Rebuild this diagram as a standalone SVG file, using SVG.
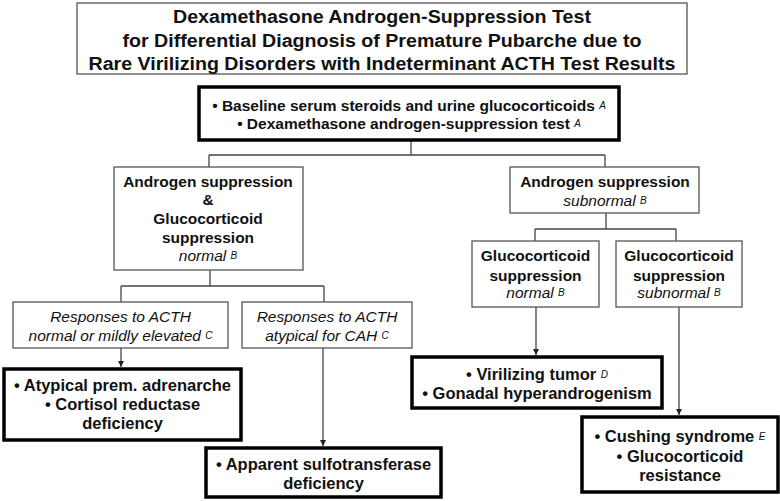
<svg xmlns="http://www.w3.org/2000/svg" width="780" height="501" viewBox="0 0 780 501">
<style>
text{font-family:"Liberation Sans",Arial,sans-serif;fill:#111;text-anchor:middle}
.t{font-size:18px;font-weight:bold}
.b{font-size:15.5px;font-weight:bold}
.r{font-size:16.5px;font-weight:bold}
.i{font-size:15.5px;font-style:italic;font-weight:normal}
.s{font-size:10px;font-style:italic;font-weight:normal}
.thin{fill:#fff;stroke:#555;stroke-width:1.3}
.thick{fill:#fff;stroke:#000;stroke-width:3.5}
.c{fill:none;stroke:#444;stroke-width:1.3}
</style>
<defs>
<marker id="ah" markerWidth="8" markerHeight="8" refX="6" refY="3" orient="auto" markerUnits="userSpaceOnUse">
<path d="M0,0 L6,3 L0,6 Z" fill="#222"/>
</marker>
</defs>
<rect width="780" height="501" fill="#fff"/>
<g id="connectors">
<path class="c" d="M411,140 V155 M209,155 H605 M209,155 V167 M605,155 V167"/>
<path class="c" d="M210,270 V286 M121,286 H324 M121,286 V302 M324,286 V302"/>
<path class="c" d="M606,213 V229 M535,229 H676 M535,229 V241 M676,229 V241"/>
<path class="c" d="M121,348 V367" marker-end="url(#ah)"/>
<path class="c" d="M323,348 V446" marker-end="url(#ah)"/>
<path class="c" d="M536,307 V355" marker-end="url(#ah)"/>
<path class="c" d="M679,307 V415" marker-end="url(#ah)"/>
</g>
<g id="title">
<rect class="thin" x="77" y="3" width="610" height="71"/>
<text class="t" x="382" y="23" textLength="418" lengthAdjust="spacingAndGlyphs">Dexamethasone Androgen-Suppression Test</text>
<text class="t" x="382" y="47" textLength="519" lengthAdjust="spacingAndGlyphs">for Differential Diagnosis of Premature Pubarche due to</text>
<text class="t" x="382" y="70" textLength="587" lengthAdjust="spacingAndGlyphs">Rare Virilizing Disorders with Indeterminant ACTH Test Results</text>
</g>
<g id="baseline">
<rect class="thick" x="199" y="87" width="420" height="53"/>
<text class="b" x="409" y="111">• Baseline serum steroids and urine glucocorticoids <tspan class="s" dy="-2">A</tspan></text>
<text class="b" x="409" y="129">• Dexamethasone androgen-suppression test <tspan class="s" dy="-2">A</tspan></text>
</g>
<g id="both-normal">
<rect class="thin" x="114" y="167" width="189" height="103"/>
<text class="b" x="208" y="187">Androgen suppression</text>
<text class="b" x="208" y="205">&amp;</text>
<text class="b" x="208" y="224">Glucocorticoid</text>
<text class="b" x="208" y="243">suppression</text>
<text class="i" x="208" y="261">normal <tspan class="s" dy="-2">B</tspan></text>
</g>
<g id="androgen-subnormal">
<rect class="thin" x="510" y="167" width="189" height="46"/>
<text class="b" x="605" y="187">Androgen suppression</text>
<text class="i" x="605" y="206">subnormal <tspan class="s" dy="-2">B</tspan></text>
</g>
<g id="gluco-normal">
<rect class="thin" x="472" y="241" width="127" height="66"/>
<text class="b" x="535.5" y="261">Glucocorticoid</text>
<text class="b" x="535.5" y="281">suppression</text>
<text class="i" x="535.5" y="298">normal <tspan class="s" dy="-2">B</tspan></text>
</g>
<g id="gluco-subnormal">
<rect class="thin" x="616" y="241" width="126" height="66"/>
<text class="b" x="679" y="261">Glucocorticoid</text>
<text class="b" x="679" y="281">suppression</text>
<text class="i" x="679" y="298">subnormal <tspan class="s" dy="-2">B</tspan></text>
</g>
<g id="acth-normal">
<rect class="thin" x="13" y="302" width="215" height="46"/>
<text class="i" x="120.5" y="322">Responses to ACTH</text>
<text class="i" x="120.5" y="341">normal or mildly elevated <tspan class="s" dy="-2">C</tspan></text>
</g>
<g id="acth-atypical">
<rect class="thin" x="242" y="302" width="170" height="46"/>
<text class="i" x="327" y="322">Responses to ACTH</text>
<text class="i" x="327" y="341">atypical for CAH <tspan class="s" dy="-2">C</tspan></text>
</g>
<g id="atypical-adrenarche">
<rect class="thick" x="4" y="369" width="237" height="71"/>
<text class="r" x="122.5" y="391">• Atypical prem. adrenarche</text>
<text class="r" x="122.5" y="410">• Cortisol reductase</text>
<text class="r" x="122.5" y="429">deficiency</text>
</g>
<g id="sulfotransferase">
<rect class="thick" x="206" y="448" width="235" height="49"/>
<text class="r" x="323.5" y="470">• Apparent sulfotransferase</text>
<text class="r" x="323.5" y="489">deficiency</text>
</g>
<g id="virilizing">
<rect class="thick" x="412" y="357" width="250" height="51"/>
<text class="r" x="537" y="380">• Virilizing tumor <tspan class="s" dy="-2">D</tspan></text>
<text class="r" x="537" y="399">• Gonadal hyperandrogenism</text>
</g>
<g id="cushing">
<rect class="thick" x="582" y="417" width="196" height="75"/>
<text class="r" x="680" y="442">• Cushing syndrome <tspan class="s" dy="-2">E</tspan></text>
<text class="r" x="680" y="462">• Glucocorticoid</text>
<text class="r" x="680" y="481">resistance</text>
</g>
</svg>
